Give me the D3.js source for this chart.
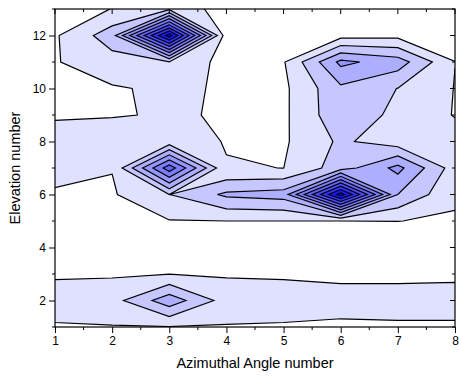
<!DOCTYPE html>
<html>
<head>
<meta charset="utf-8">
<script src="https://cdn.jsdelivr.net/npm/d3@7"></script>
<style>
  body { margin: 0; background: #fff; }
  text { font-family: Arial, "Liberation Sans", sans-serif; fill: #000; }
</style>
</head>
<body>
<svg id="chart" width="459" height="381"></svg>
<script>
// Grid axes
const azimuth = [1, 2, 3, 4, 5, 6, 7, 8];
const elevation = [1, 2, 3, 4, 5, 6, 7, 8, 9, 10, 11, 12, 13];

// Z values, one array per elevation row (azimuth 1..8)
const elev1  = [0.898, 0.955, 0.95, 0.939, 0.898, 0.775, 0.833, 0.833];
const elev2  = [1.5, 1.6, 3.6, 1.55, 1.5, 1.5, 1.5, 1.5];
const elev3  = [0.867, 0.894, 0.98, 0.903, 0.867, 0.719, 0.719, 0.765];
const elev4  = [0.3, 0.3, 0.3, 0.3, 0.3, 0.3, 0.3, 0.3];
const elev5  = [0.5, 0.5, 0.958, 1.0, 1.0, 1.0, 1.01, 0.9];
const elev6  = [0.93, 0.9, 1.99, 3.19, 3.44, 10.5, 3.0, 1.15];
const elev7  = [1.2, 1.03, 6.6, 1.04, 0.995, 2.5, 4.3, 1.5];
const elev8  = [1.2, 1.27, 1.37, 0.96, 0.868, 2.18, 1.43, 1.45];
const elev9  = [0.95, 0.97, 1.038, 0.97, 0.81, 2.73, 1.73, 0.95];
const elev10 = [0.9, 0.905, 1.176, 0.9, 0.8, 2.8, 1.98, 0.97];
const elev11 = [0.935, 1.585, 1.98, 0.61, 0.92, 4.25, 3.5, 1.01];
const elev12 = [0.88, 2.55, 10.5, 0.4, 0.5, 0.64, 0.72, 0.5];
const elev13 = [0.3, 1.03, 1.8, 0.5, 0.3, 0.3, 0.3, 0.3];

// Contour levels
const levels = [1, 2, 3, 4, 5, 6, 7, 8, 9, 10];

// Axis ticks
const xTicks = [1, 2, 3, 4, 5, 6, 7, 8];
const yTicks = [2, 4, 6, 8, 10, 12];

const rows = [elev1, elev2, elev3, elev4, elev5, elev6, elev7, elev8, elev9, elev10, elev11, elev12, elev13];
const values = rows.flat();

const margin = { left: 55, top: 9, right: 4, bottom: 54 };
const W = 459, H = 381;
const pw = W - margin.left - margin.right;
const ph = H - margin.top - margin.bottom;

const svg = d3.select("#chart");
const x = d3.scaleLinear().domain([1, 8]).range([margin.left, margin.left + pw]);
const y = d3.scaleLinear().domain([1, 13]).range([margin.top + ph, margin.top]);

// Fill colours: pale lavender to pure blue
const fills = levels.map((_, i) => {
  const g = Math.round(224 - i * 224 / (levels.length - 1));
  return `rgb(${g},${g},255)`;
});

svg.append("defs").append("clipPath").attr("id", "plotClip")
  .append("rect").attr("x", margin.left).attr("y", margin.top)
  .attr("width", pw).attr("height", ph);

const contours = d3.contours()
  .size([azimuth.length, elevation.length])
  .thresholds(levels)(values);

// grid cell centres (i + 0.5) sit on the sample positions
const proj = d3.geoTransform({
  point: function (gx, gy) {
    const ax = azimuth[0] + (gx - 0.5) * (azimuth[1] - azimuth[0]);
    const ay = elevation[0] + (gy - 0.5) * (elevation[1] - elevation[0]);
    this.stream.point(x(ax), y(ay));
  }
});
const path = d3.geoPath(proj);

const plot = svg.append("g").attr("clip-path", "url(#plotClip)");
plot.append("rect").attr("x", margin.left).attr("y", margin.top)
  .attr("width", pw).attr("height", ph).attr("fill", "#fff");

plot.selectAll("path.band").data(contours).join("path")
  .attr("class", "band")
  .attr("d", path)
  .attr("fill", (d, i) => fills[i])
  .attr("stroke", "#000")
  .attr("stroke-width", 1.2)
  .attr("stroke-linejoin", "miter");

// Frame
svg.append("rect").attr("x", margin.left).attr("y", margin.top)
  .attr("width", pw).attr("height", ph)
  .attr("fill", "none").attr("stroke", "#000").attr("stroke-width", 1.2);

// Axes
const xAxis = d3.axisBottom(x).tickValues(xTicks).tickFormat(d3.format("d")).tickSize(6).tickPadding(3);
const gx = svg.append("g").attr("transform", `translate(0,${margin.top + ph})`).call(xAxis);
const yAxis = d3.axisLeft(y).tickValues(yTicks).tickFormat(d3.format("d")).tickSize(6).tickPadding(3);
const gy = svg.append("g").attr("transform", `translate(${margin.left},0)`).call(yAxis);

[gx, gy].forEach(g => {
  g.select(".domain").remove();
  g.selectAll(".tick line").attr("stroke", "#000").attr("stroke-width", 1);
  g.selectAll(".tick text").attr("font-size", 12).attr("fill", "#000")
    .attr("font-family", "Arial, 'Liberation Sans', sans-serif");
});

// Minor ticks
const xMinor = d3.range(1.5, 8, 1);
const yMinor = d3.range(1, 14, 2);
svg.append("g").selectAll("line").data(xMinor).join("line")
  .attr("x1", d => x(d)).attr("x2", d => x(d))
  .attr("y1", margin.top + ph).attr("y2", margin.top + ph + 3)
  .attr("stroke", "#000");
svg.append("g").selectAll("line").data(yMinor).join("line")
  .attr("x1", margin.left - 3).attr("x2", margin.left)
  .attr("y1", d => y(d)).attr("y2", d => y(d))
  .attr("stroke", "#000");

// Mirrored ticks on top and right, pointing inward
svg.append("g").selectAll("line").data(xTicks.concat(xMinor)).join("line")
  .attr("x1", d => x(d)).attr("x2", d => x(d))
  .attr("y1", margin.top).attr("y2", d => margin.top + (Number.isInteger(d) ? 5 : 3))
  .attr("stroke", "#000");
svg.append("g").selectAll("line").data(yTicks.concat(yMinor)).join("line")
  .attr("x1", d => margin.left + pw - (d % 2 === 0 ? 5 : 3)).attr("x2", margin.left + pw)
  .attr("y1", d => y(d)).attr("y2", d => y(d))
  .attr("stroke", "#000");

// Axis titles
svg.append("text")
  .attr("x", margin.left + pw / 2).attr("y", 368)
  .attr("text-anchor", "middle").attr("font-size", 14.5)
  .text("Azimuthal Angle number");
svg.append("text")
  .attr("transform", `translate(20,${margin.top + ph / 2}) rotate(-90)`)
  .attr("text-anchor", "middle").attr("font-size", 14.5)
  .text("Elevation number");
</script>
</body>
</html>
